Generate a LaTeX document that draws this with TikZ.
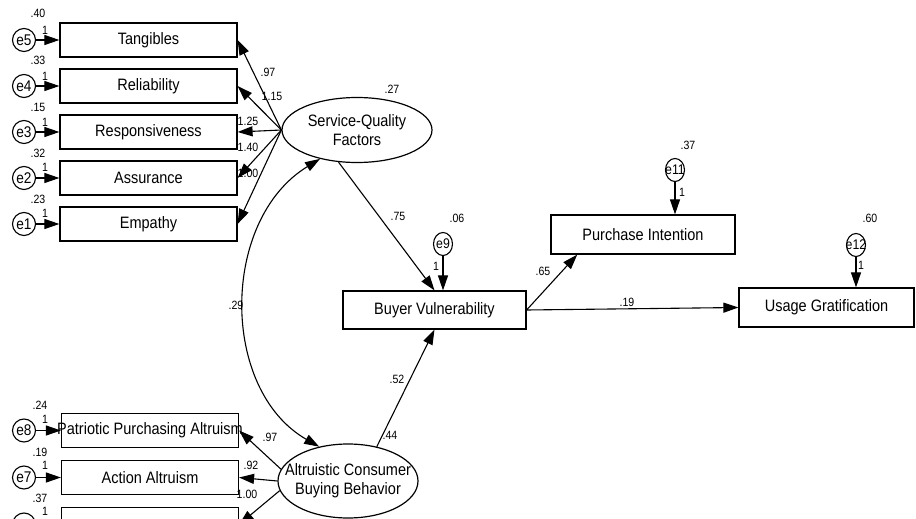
\documentclass[tikz,border=0pt]{standalone}
\usepackage{fontspec}
\setmainfont{Liberation Sans}[FakeStretch=0.88]
\usetikzlibrary{shapes.geometric,arrows.meta}
\begin{document}
\begin{tikzpicture}[x=1pt,y=-1pt,
	obs/.style={draw,line width=1.2pt,minimum width=177pt,minimum height=34pt,inner sep=0pt,font=\fontsize{16.5}{18}\selectfont},
	err/.style={draw,circle,line width=1.1pt,minimum size=23pt,inner sep=0pt,font=\fontsize{15.5}{16}\selectfont},
	errs/.style={draw,ellipse,line width=1.1pt,minimum width=19pt,minimum height=23pt,inner sep=0pt,font=\fontsize{14}{15}\selectfont},
	lat/.style={draw,ellipse,line width=1.2pt,inner sep=0pt,align=center,font=\fontsize{16.5}{19}\selectfont},
	est/.style={inner sep=0pt,font=\fontsize{12}{13}\selectfont},
	reg/.style={line width=1.1pt,-{Triangle[length=15pt,width=10pt]}},
	cov/.style={line width=1.1pt,{Triangle[length=15pt,width=10pt]}-{Triangle[length=15pt,width=10pt]}}]
	\useasboundingbox (0,0) rectangle (916,519);
	\clip (0,0) rectangle (916,519);

	\node[obs] (tang)  at (148.5, 40) {Tangibles};
	\node[obs] (rel)   at (148.5, 86) {Reliability};
	\node[obs] (resp)  at (148.5,132) {Responsiveness};
	\node[obs] (assur) at (148.5,178) {Assurance};
	\node[obs] (emp)   at (148.5,224) {Empathy};
	\node[obs] (ppa)   at (150,430.5) {\makebox[0pt]{Patriotic Purchasing Altruism}};
	\node[obs] (act)   at (150,477.5) {Action Altruism};
	\node[obs] (third) at (150,524.5) {};

	\node[err] (e5) at (24, 40) {\makebox[0pt]{e5}};
	\node[err] (e4) at (24, 86) {\makebox[0pt]{e4}};
	\node[err] (e3) at (24,132) {\makebox[0pt]{e3}};
	\node[err] (e2) at (24,178) {\makebox[0pt]{e2}};
	\node[err] (e1) at (24,224) {\makebox[0pt]{e1}};
	\node[err] (e8) at (24,430.5) {\makebox[0pt]{e8}};
	\node[err] (e7) at (24,477.5) {\makebox[0pt]{e7}};
	\node[err] (e6) at (24,524.5) {};

	\node[lat,minimum width=150pt,minimum height=65pt] (sqf) at (357,130) {Service-Quality\\Factors};
	\node[lat,inner xsep=-14pt,minimum width=140pt,minimum height=74pt] (acbb) at (348,481) {Altruistic Consumer\\Buying Behavior};

	\node[obs,minimum width=183pt,minimum height=38pt] (bv) at (434.5,310) {Buyer Vulnerability};
	\node[obs,minimum width=184pt,minimum height=39pt] (pi) at (643,234.5) {Purchase Intention};
	\node[obs,minimum width=175pt,minimum height=39pt] (ug) at (826.5,307.5) {Usage Gratification};

	\node[errs] (e9)  at (443,244) {\makebox[0pt]{e9}};
	\node[errs] (e11) at (675,170) {\makebox[0pt]{e11}};
	\node[errs] (e12) at (856,245) {\makebox[0pt]{e12}};

	\draw[reg] (e5) -- (tang);
	\draw[reg] (e4) -- (rel);
	\draw[reg] (e3) -- (resp);
	\draw[reg] (e2) -- (assur);
	\draw[reg] (e1) -- (emp);
	\draw[reg] (e8) -- (ppa);
	\draw[reg] (e7) -- (act);
	\draw[reg] (e6) -- (third);

	\draw[reg] (sqf.west) -- (tang.east);
	\draw[reg] (sqf.west) -- (rel.east);
	\draw[reg] (sqf.west) -- (resp.east);
	\draw[reg] (sqf.west) -- (assur.east);
	\draw[reg] (sqf.west) -- (emp.east);
	\draw[reg] (acbb.170) -- (ppa.east);
	\draw[reg] (acbb.west) -- (act.east);
	\draw[reg] (acbb.188) -- (third.east);

	\draw[reg] (sqf.240) -- (bv.north);
	\draw[reg] (acbb.50) -- (bv.south);
	\draw[reg] (e9) -- (e9 |- bv.north);
	\draw[reg] (bv.east) -- (pi.197);
	\draw[reg] (bv.east) -- (ug.west);
	\draw[reg] (e11) -- (e11 |- pi.north);
	\draw[reg] (e12) -- (e12 |- ug.north);
	\draw[cov] (sqf.218) .. controls (220,220) and (220,390) .. (acbb.130);

	\node[est] (v5) at (38, 13) {.40};
	\node[est] (v4) at (38, 60) {.33};
	\node[est] (v3) at (38,107) {.15};
	\node[est] (v2) at (38,153) {.32};
	\node[est] (v1) at (38,199) {.23};
	\node[est] (v8) at (40,405) {.24};
	\node[est] (v7) at (40,452) {.19};
	\node[est] (v6) at (40,498) {.37};
	\node[est] (f5) at (45, 30) {1};
	\node[est] (f4) at (45, 76) {1};
	\node[est] (f3) at (45,122) {1};
	\node[est] (f2) at (45,167) {1};
	\node[est] (f1) at (45,213) {1};
	\node[est] (f8) at (45,419) {1};
	\node[est] (f7) at (45,465) {1};
	\node[est] (f6) at (45,511) {1};

	\node[est] (ltang)  at (268, 72) {.97};
	\node[est] (lrel)   at (272, 96) {1.15};
	\node[est] (lresp)  at (248,121) {1.25};
	\node[est] (lassur) at (248,147) {1.40};
	\node[est] (lemp)   at (248,173) {1.00};
	\node[est] (lppa)   at (270,437) {.97};
	\node[est] (lact)   at (251,465) {.92};
	\node[est] (lthird) at (247,494) {1.00};

	\node[est] (vsqf)  at (392, 89) {.27};
	\node[est] (vacbb) at (390,435) {.44};
	\node[est] (lcov)  at (236,305) {.29};
	\node[est] (lsqf)  at (398,216) {.75};
	\node[est] (lacbb) at (397,379) {.52};
	\node[est] (v9)    at (457,218) {.06};
	\node[est] (f9)    at (436,266) {1};
	\node[est] (lpi)   at (543,271) {.65};
	\node[est] (lug)   at (627,302) {.19};
	\node[est] (v11)   at (688,145) {.37};
	\node[est] (f11)   at (682,192) {1};
	\node[est] (v12)   at (870,218) {.60};
	\node[est] (f12)   at (861,265) {1};
\end{tikzpicture}
\end{document}
